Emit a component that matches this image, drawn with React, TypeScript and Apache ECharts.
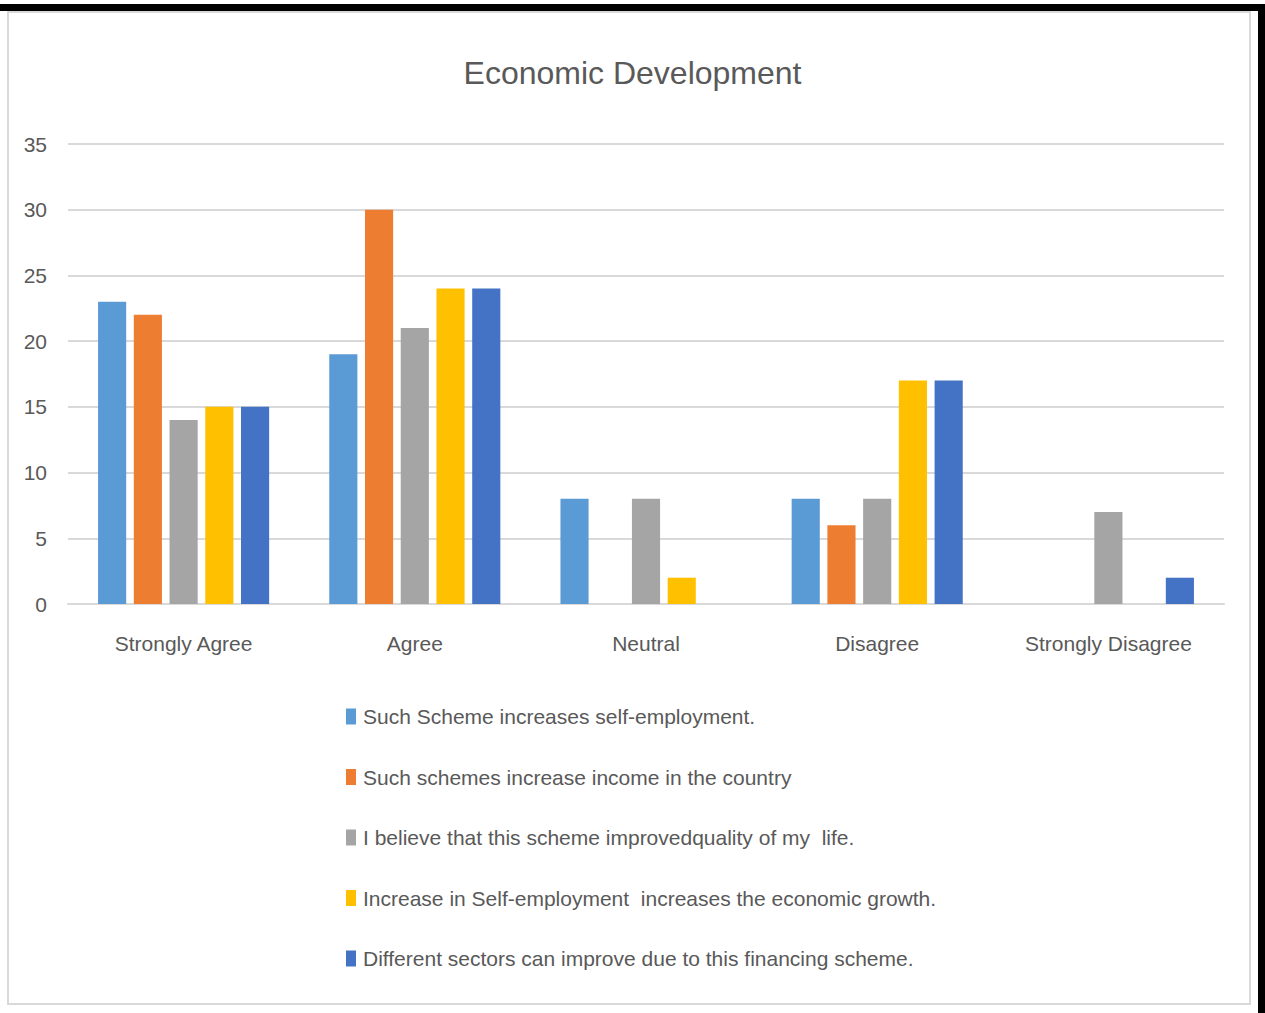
import React, { useEffect, useRef } from "react";
import * as echarts from "echarts";

const categories = ["Strongly Agree", "Agree", "Neutral", "Disagree", "Strongly Disagree"];
const seriesNames = [
  "Such Scheme increases self-employment.",
  "Such schemes increase income in the country",
  "I believe that this scheme improvedquality of my  life.",
  "Increase in Self-employment  increases the economic growth.",
  "Different sectors can improve due to this financing scheme.",
];
const s1 = [23, 19, 8, 8, 0];
const s2 = [22, 30, 0, 6, 0];
const s3 = [14, 21, 8, 8, 7];
const s4 = [15, 24, 2, 17, 0];
const s5 = [15, 24, 0, 17, 2];
const colors = ["#5B9BD5", "#ED7D31", "#A5A5A5", "#FFC000", "#4472C4"];

const FONT = "'Liberation Sans', Arial, sans-serif";

export default function App() {
  const ref = useRef<HTMLDivElement>(null);
  useEffect(() => {
    if (!ref.current) return;
    const chart = echarts.init(ref.current, undefined, { renderer: "svg" });
    const data = [s1, s2, s3, s4, s5];
    chart.setOption({
      animation: false,
      backgroundColor: "#ffffff",
      textStyle: { fontFamily: FONT },
      title: {
        text: "Economic Development",
        left: "center",
        top: 52,
        textStyle: { fontFamily: FONT, fontSize: 32, fontWeight: "normal", color: "#595959" },
      },
      graphic: [
        { type: "rect", shape: { x: 8, y: 12, width: 1242, height: 992 }, style: { fill: "none", stroke: "#D9D9D9", lineWidth: 2 }, z: -1 },
        { type: "rect", shape: { x: 0, y: 4, width: 1265, height: 7 }, style: { fill: "#000" } },
        { type: "rect", shape: { x: 1258, y: 4, width: 7, height: 1009 }, style: { fill: "#000" } },
      ],
      legend: {
        orient: "vertical",
        left: 341,
        top: 701,
        itemWidth: 10,
        itemHeight: 16,
        itemGap: 39.5,
        icon: "rect",
        data: seriesNames,
        textStyle: { fontFamily: FONT, fontSize: 21, color: "#595959", lineHeight: 20, padding: [0, 0, 0, 2] },
      },
      grid: { left: 68, right: 41, top: 144, bottom: 409 },
      xAxis: {
        type: "category",
        data: categories,
        axisLine: { lineStyle: { color: "#D9D9D9", width: 2 } },
        axisTick: { show: false },
        axisLabel: { fontFamily: FONT, fontSize: 21, color: "#595959", margin: 29 },
      },
      yAxis: {
        type: "value",
        min: 0,
        max: 35,
        interval: 5,
        axisLine: { show: false },
        axisTick: { show: false },
        splitLine: { lineStyle: { color: "#D9D9D9", width: 2 } },
        axisLabel: { fontFamily: FONT, fontSize: 21, color: "#595959", margin: 21 },
      },
      series: data.map((d, i) => ({
        name: seriesNames[i],
        type: "bar",
        data: d,
        itemStyle: { color: colors[i] },
        barGap: "27%",
        barCategoryGap: "26%",
      })),
    });
    return () => chart.dispose();
  }, []);
  return (
    <div
      ref={ref}
      style={{ position: "fixed", left: 0, top: 0, width: 1265, height: 1013 }}
    />
  );
}
